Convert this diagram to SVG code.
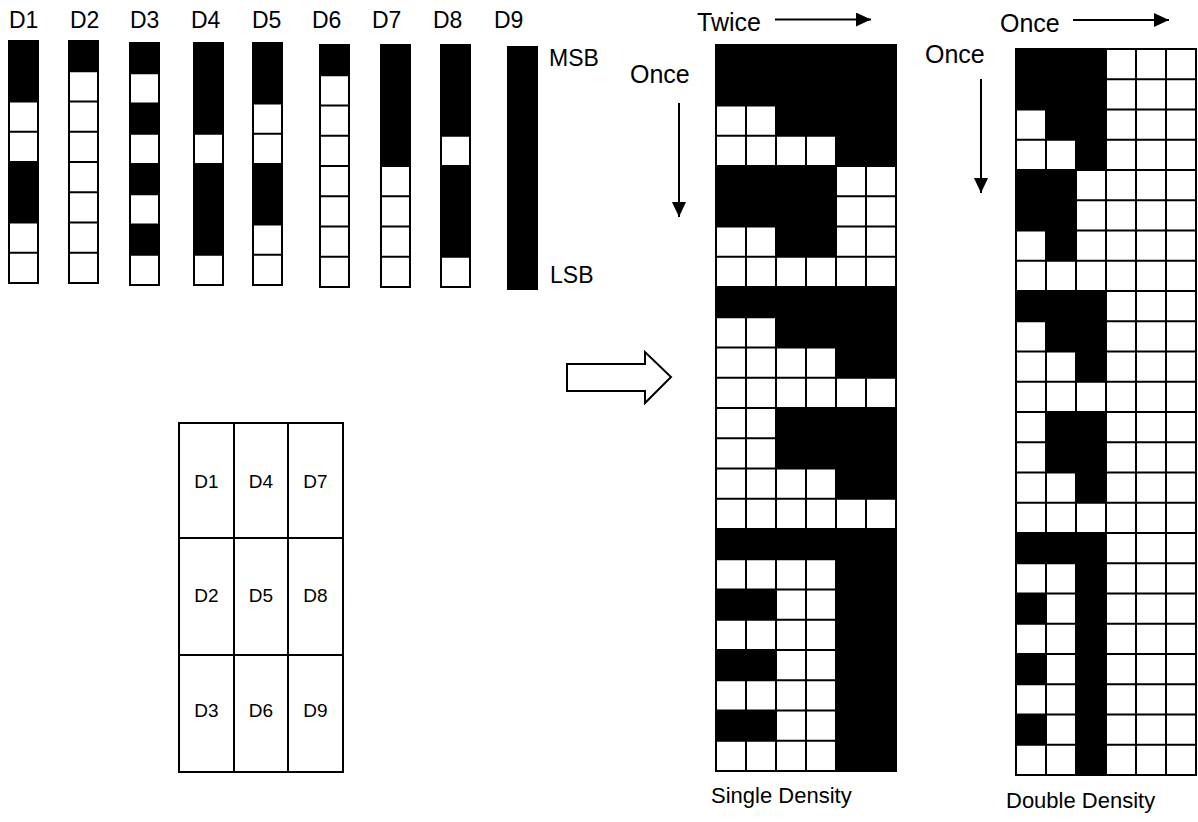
<svg xmlns="http://www.w3.org/2000/svg" xmlns:xlink="http://www.w3.org/1999/xlink" width="1198" height="822" viewBox="0 0 1198 822">
<style>
.b{fill:#000}
.ln{fill:none;stroke:#000;stroke-width:2}
.box{fill:#fff;stroke:#000;stroke-width:2}
text{font-family:"Liberation Sans",Arial,sans-serif;fill:#000}
.lab{font-size:23px}
.big{font-size:25px}
.sm{font-size:19px;text-anchor:middle}
.cap{font-size:22px}
.arr{fill:none;stroke:#000;stroke-width:2}
</style>
<defs>
<g id="col">
<rect class="box" x="0" y="0" width="29" height="242"/>
<path class="ln" d="M0 30.25H29M0 60.5H29M0 90.75H29M0 121H29M0 151.25H29M0 181.5H29M0 211.75H29"/>
</g>
<g id="grid">
<rect class="box" x="0" y="0" width="180" height="726"/>
<path class="ln" d="M30 0V726M60 0V726M90 0V726M120 0V726M150 0V726M0 30.25H180M0 60.5H180M0 90.75H180M0 121H180M0 151.25H180M0 181.5H180M0 211.75H180M0 242H180M0 272.25H180M0 302.5H180M0 332.75H180M0 363H180M0 393.25H180M0 423.5H180M0 453.75H180M0 484H180M0 514.25H180M0 544.5H180M0 574.75H180M0 605H180M0 635.25H180M0 665.5H180M0 695.75H180"/>
</g>
<marker id="ah" viewBox="0 0 15 14" refX="15" refY="7" markerWidth="15" markerHeight="14" markerUnits="userSpaceOnUse" orient="auto">
<path d="M0 0L15 7L0 14Z" fill="#000"/>
</marker>
</defs>

<g id="labels-top">
<text class="lab" x="9" y="28">D1</text>
<text class="lab" x="70" y="28">D2</text>
<text class="lab" x="130" y="28">D3</text>
<text class="lab" x="191" y="28">D4</text>
<text class="lab" x="252" y="28">D5</text>
<text class="lab" x="312" y="28">D6</text>
<text class="lab" x="372" y="28">D7</text>
<text class="lab" x="433" y="28">D8</text>
<text class="lab" x="494" y="28">D9</text>
<text class="lab" x="549" y="66">MSB</text>
<text class="lab" x="550" y="283">LSB</text>
</g>

<g id="col-d1" transform="translate(9,41)"><use xlink:href="#col" href="#col"/>
<rect class="b" x="0" y="0" width="29" height="60.5"/><rect class="b" x="0" y="121" width="29" height="60.5"/></g>
<g id="col-d2" transform="translate(69,41)"><use xlink:href="#col" href="#col"/>
<rect class="b" x="0" y="0" width="29" height="30.25"/></g>
<g id="col-d3" transform="translate(130,43)"><use xlink:href="#col" href="#col"/>
<rect class="b" x="0" y="0" width="29" height="30.25"/><rect class="b" x="0" y="60.5" width="29" height="30.25"/><rect class="b" x="0" y="121" width="29" height="30.25"/><rect class="b" x="0" y="181.5" width="29" height="30.25"/></g>
<g id="col-d4" transform="translate(194,43)"><use xlink:href="#col" href="#col"/>
<rect class="b" x="0" y="0" width="29" height="90.75"/><rect class="b" x="0" y="121" width="29" height="90.75"/></g>
<g id="col-d5" transform="translate(253,43)"><use xlink:href="#col" href="#col"/>
<rect class="b" x="0" y="0" width="29" height="60.5"/><rect class="b" x="0" y="121" width="29" height="60.5"/></g>
<g id="col-d6" transform="translate(320,45)"><use xlink:href="#col" href="#col"/>
<rect class="b" x="0" y="0" width="29" height="30.25"/></g>
<g id="col-d7" transform="translate(381,45)"><use xlink:href="#col" href="#col"/>
<rect class="b" x="0" y="0" width="29" height="121"/></g>
<g id="col-d8" transform="translate(441,45)"><use xlink:href="#col" href="#col"/>
<rect class="b" x="0" y="0" width="29" height="90.75"/><rect class="b" x="0" y="121" width="29" height="90.75"/></g>
<g id="col-d9" transform="translate(508,47)">
<rect class="b" x="0" y="0" width="29" height="242" stroke="#000" stroke-width="2"/></g>

<g id="layout-table">
<rect class="box" x="179" y="423" width="164" height="349"/>
<path class="ln" d="M234 423V772M288 423V772M179 538H343M179 655H343"/>
<text class="sm" x="206.5" y="488">D1</text>
<text class="sm" x="261" y="488">D4</text>
<text class="sm" x="315.5" y="488">D7</text>
<text class="sm" x="206.5" y="602">D2</text>
<text class="sm" x="261" y="602">D5</text>
<text class="sm" x="315.5" y="602">D8</text>
<text class="sm" x="206.5" y="717">D3</text>
<text class="sm" x="261" y="717">D6</text>
<text class="sm" x="315.5" y="717">D9</text>
</g>

<g id="single-density" transform="translate(716,45)">
<use xlink:href="#grid" href="#grid"/>
<rect class="b" x="0" y="0" width="180" height="60.5"/>
<rect class="b" x="60" y="60.5" width="120" height="30.25"/>
<rect class="b" x="120" y="90.75" width="60" height="30.25"/>
<rect class="b" x="0" y="121" width="120" height="60.5"/>
<rect class="b" x="60" y="181.5" width="60" height="30.25"/>
<rect class="b" x="0" y="242" width="180" height="30.25"/>
<rect class="b" x="60" y="272.25" width="120" height="30.25"/>
<rect class="b" x="120" y="302.5" width="60" height="30.25"/>
<rect class="b" x="60" y="363" width="120" height="60.5"/>
<rect class="b" x="120" y="423.5" width="60" height="30.25"/>
<rect class="b" x="0" y="484" width="180" height="30.25"/>
<rect class="b" x="120" y="514.25" width="60" height="211.75"/>
<rect class="b" x="0" y="544.5" width="60" height="30.25"/>
<rect class="b" x="0" y="605" width="60" height="30.25"/>
<rect class="b" x="0" y="665.5" width="60" height="30.25"/>
<rect class="ln" x="0" y="0" width="180" height="726"/>
</g>
<text class="cap" x="711" y="803">Single Density</text>

<g id="double-density" transform="translate(1016,49)">
<use xlink:href="#grid" href="#grid"/>
<rect class="b" x="0" y="0" width="90" height="60.5"/>
<rect class="b" x="30" y="60.5" width="60" height="30.25"/>
<rect class="b" x="60" y="90.75" width="30" height="30.25"/>
<rect class="b" x="0" y="121" width="60" height="60.5"/>
<rect class="b" x="30" y="181.5" width="30" height="30.25"/>
<rect class="b" x="0" y="242" width="90" height="30.25"/>
<rect class="b" x="30" y="272.25" width="60" height="30.25"/>
<rect class="b" x="60" y="302.5" width="30" height="30.25"/>
<rect class="b" x="30" y="363" width="60" height="60.5"/>
<rect class="b" x="60" y="423.5" width="30" height="30.25"/>
<rect class="b" x="0" y="484" width="90" height="30.25"/>
<rect class="b" x="60" y="514.25" width="30" height="211.75"/>
<rect class="b" x="0" y="544.5" width="30" height="30.25"/>
<rect class="b" x="0" y="605" width="30" height="30.25"/>
<rect class="b" x="0" y="665.5" width="30" height="30.25"/>
<rect class="ln" x="0" y="0" width="180" height="726"/>
</g>
<text class="cap" x="1006" y="808">Double Density</text>

<g id="direction-labels">
<text class="big" x="697" y="31">Twice</text>
<text class="big" x="630" y="83">Once</text>
<text class="big" x="1000" y="32">Once</text>
<text class="big" x="925" y="63">Once</text>
</g>

<g id="connectors">
<line class="arr" x1="775" y1="19.5" x2="871" y2="19.5" marker-end="url(#ah)"/>
<line class="arr" x1="1073" y1="20" x2="1169" y2="20" marker-end="url(#ah)"/>
<line class="arr" x1="679" y1="103" x2="679" y2="217" marker-end="url(#ah)"/>
<line class="arr" x1="981" y1="79" x2="981" y2="193" marker-end="url(#ah)"/>
<polygon points="567,364 645,364 645,352 671,377 645,403 645,391 567,391" fill="#fff" stroke="#000" stroke-width="2"/>
</g>
</svg>
